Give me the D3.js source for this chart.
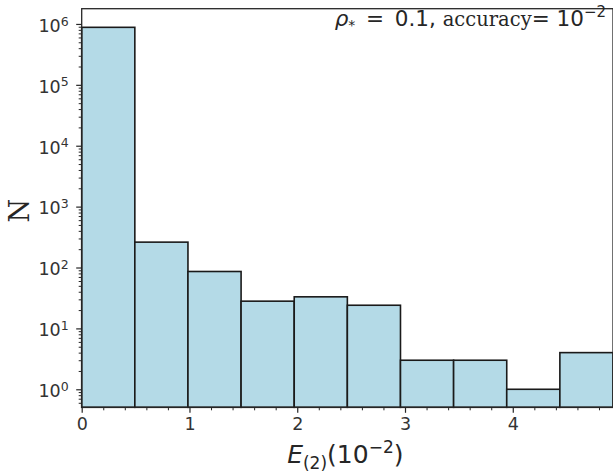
<!DOCTYPE html>
<html>
<head>
<meta charset="utf-8">
<script src="https://cdn.jsdelivr.net/npm/d3@7"></script>
<style>
  body { margin: 0; background: #fff; }
  svg { display: block; }
  .bar { fill: #b4dae7; stroke: #1a1a1a; stroke-width: 1.6; }
</style>
</head>
<body>
<div id="chart"></div>
<script>
// histogram of E_(2) in units of 1e-2, 10 bins
var binEdges = [0, 0.493, 0.986, 1.479, 1.972, 2.465, 2.958, 3.451, 3.944, 4.437, 4.93];
var counts = [880000, 261, 86, 28, 33, 24, 3, 3, 1, 4];
var xTicks = [0, 1, 2, 3, 4];
var yExponents = [0, 1, 2, 3, 4, 5, 6];

var W = 613, H = 475;
var margin = { top: 8.7, right: 0, bottom: 67.7, left: 81.7 };
var width = W - margin.left - margin.right,
    height = H - margin.top - margin.bottom;
var sans = "'DejaVu Sans', sans-serif";
var serif = "'DejaVu Serif', 'Liberation Serif', serif";

var x = d3.scaleLinear().domain([0, 4.93]).range([0, width]);
var y = d3.scaleLog().domain([0.506, 1.78e6]).range([height, 0]);

var svg = d3.select("#chart").append("svg")
  .attr("width", W).attr("height", H);

var g = svg.append("g")
  .attr("transform", "translate(" + margin.left + "," + margin.top + ")");

// bars
var bins = counts.map(function (c, i) { return { x0: binEdges[i], x1: binEdges[i + 1], n: c }; });
g.selectAll(".bar").data(bins).enter().append("rect")
  .attr("class", "bar")
  .attr("x", function (d) { return x(d.x0); })
  .attr("width", function (d) { return x(d.x1) - x(d.x0); })
  .attr("y", function (d) { return y(d.n); })
  .attr("height", function (d) { return height - y(d.n); });

// frame
g.append("rect").attr("width", width).attr("height", height)
  .attr("fill", "none").attr("stroke", "#262626").attr("stroke-width", 1.3);

// x axis, major + minor ticks
var xMinor = d3.range(0, 4.93, 0.2).filter(function (v) { return Math.abs(v - Math.round(v)) > 1e-6; });
g.append("g").attr("transform", "translate(0," + height + ")")
  .call(d3.axisBottom(x).tickValues(xMinor).tickSize(3).tickFormat(""))
  .call(function (s) { s.select(".domain").remove(); s.selectAll("line").attr("stroke", "#262626"); });
var xAx = g.append("g").attr("transform", "translate(0," + height + ")")
  .call(d3.axisBottom(x).tickValues(xTicks).tickSize(5.5).tickPadding(5).tickFormat(d3.format("d")));
xAx.select(".domain").remove();
xAx.selectAll("line").attr("stroke", "#262626").attr("stroke-width", 1.2);
xAx.selectAll("text").attr("font-size", 17.5).attr("font-family", sans).attr("fill", "#333");

// y axis, minor ticks
var yMinor = [];
for (var e = -1; e <= 6; e++) {
  for (var m = 2; m <= 9; m++) {
    var v = m * Math.pow(10, e);
    if (v >= 0.506 && v <= 1.78e6) yMinor.push(v);
  }
}
g.append("g")
  .call(d3.axisLeft(y).tickValues(yMinor).tickSize(3).tickFormat(""))
  .call(function (s) { s.select(".domain").remove(); s.selectAll("line").attr("stroke", "#262626"); });
var yAx = g.append("g")
  .call(d3.axisLeft(y).tickValues(yExponents.map(function (p) { return Math.pow(10, p); }))
    .tickSize(5.5).tickPadding(6).tickFormat(""));
yAx.select(".domain").remove();
yAx.selectAll("line").attr("stroke", "#262626").attr("stroke-width", 1.2);
yAx.selectAll(".tick").each(function (d, i) {
  var t = d3.select(this).append("text")
    .attr("x", -13).attr("dy", "0.42em").attr("text-anchor", "end")
    .attr("font-family", sans).attr("font-size", 17.5).attr("fill", "#333");
  t.append("tspan").text("10");
  t.append("tspan").attr("dy", "-0.5em").attr("font-size", 12.5).text(String(yExponents[i]));
});

// y label
svg.append("text")
  .attr("transform", "translate(29," + (margin.top + 202) + ") rotate(-90)")
  .attr("text-anchor", "middle")
  .attr("font-family", serif)
  .attr("font-size", 27).attr("fill", "#262626")
  .text("N");

// x label
var xl = svg.append("text")
  .attr("x", margin.left + width / 2 - 2).attr("y", 463)
  .attr("text-anchor", "middle")
  .attr("font-family", sans)
  .attr("font-size", 25).attr("fill", "#262626");
xl.append("tspan").attr("font-style", "italic").text("E");
xl.append("tspan").attr("font-size", 17).attr("dy", 6).text("(2)");
xl.append("tspan").attr("dy", -6).text("(10");
xl.append("tspan").attr("font-size", 17).attr("dy", -10).text("\u22122");
xl.append("tspan").attr("dy", 10).text(")");

// annotation
var ann = svg.append("text")
  .attr("x", 606).attr("y", 26)
  .attr("text-anchor", "end")
  .attr("font-family", sans)
  .attr("font-size", 21.5).attr("fill", "#262626")
  .attr("xml:space", "preserve");
ann.append("tspan").attr("font-style", "italic").text("\u03c1");
ann.append("tspan").attr("font-size", 14).attr("dy", 4).text("*");
ann.append("tspan").attr("dy", -4).text("\u2002=\u20020.1, ");
ann.append("tspan").attr("font-family", serif).attr("font-size", 19.5).text("accuracy");
ann.append("tspan").text("=\u00a010");
ann.append("tspan").attr("font-size", 15).attr("dy", -9).text("\u22122");
</script>
</body>
</html>
